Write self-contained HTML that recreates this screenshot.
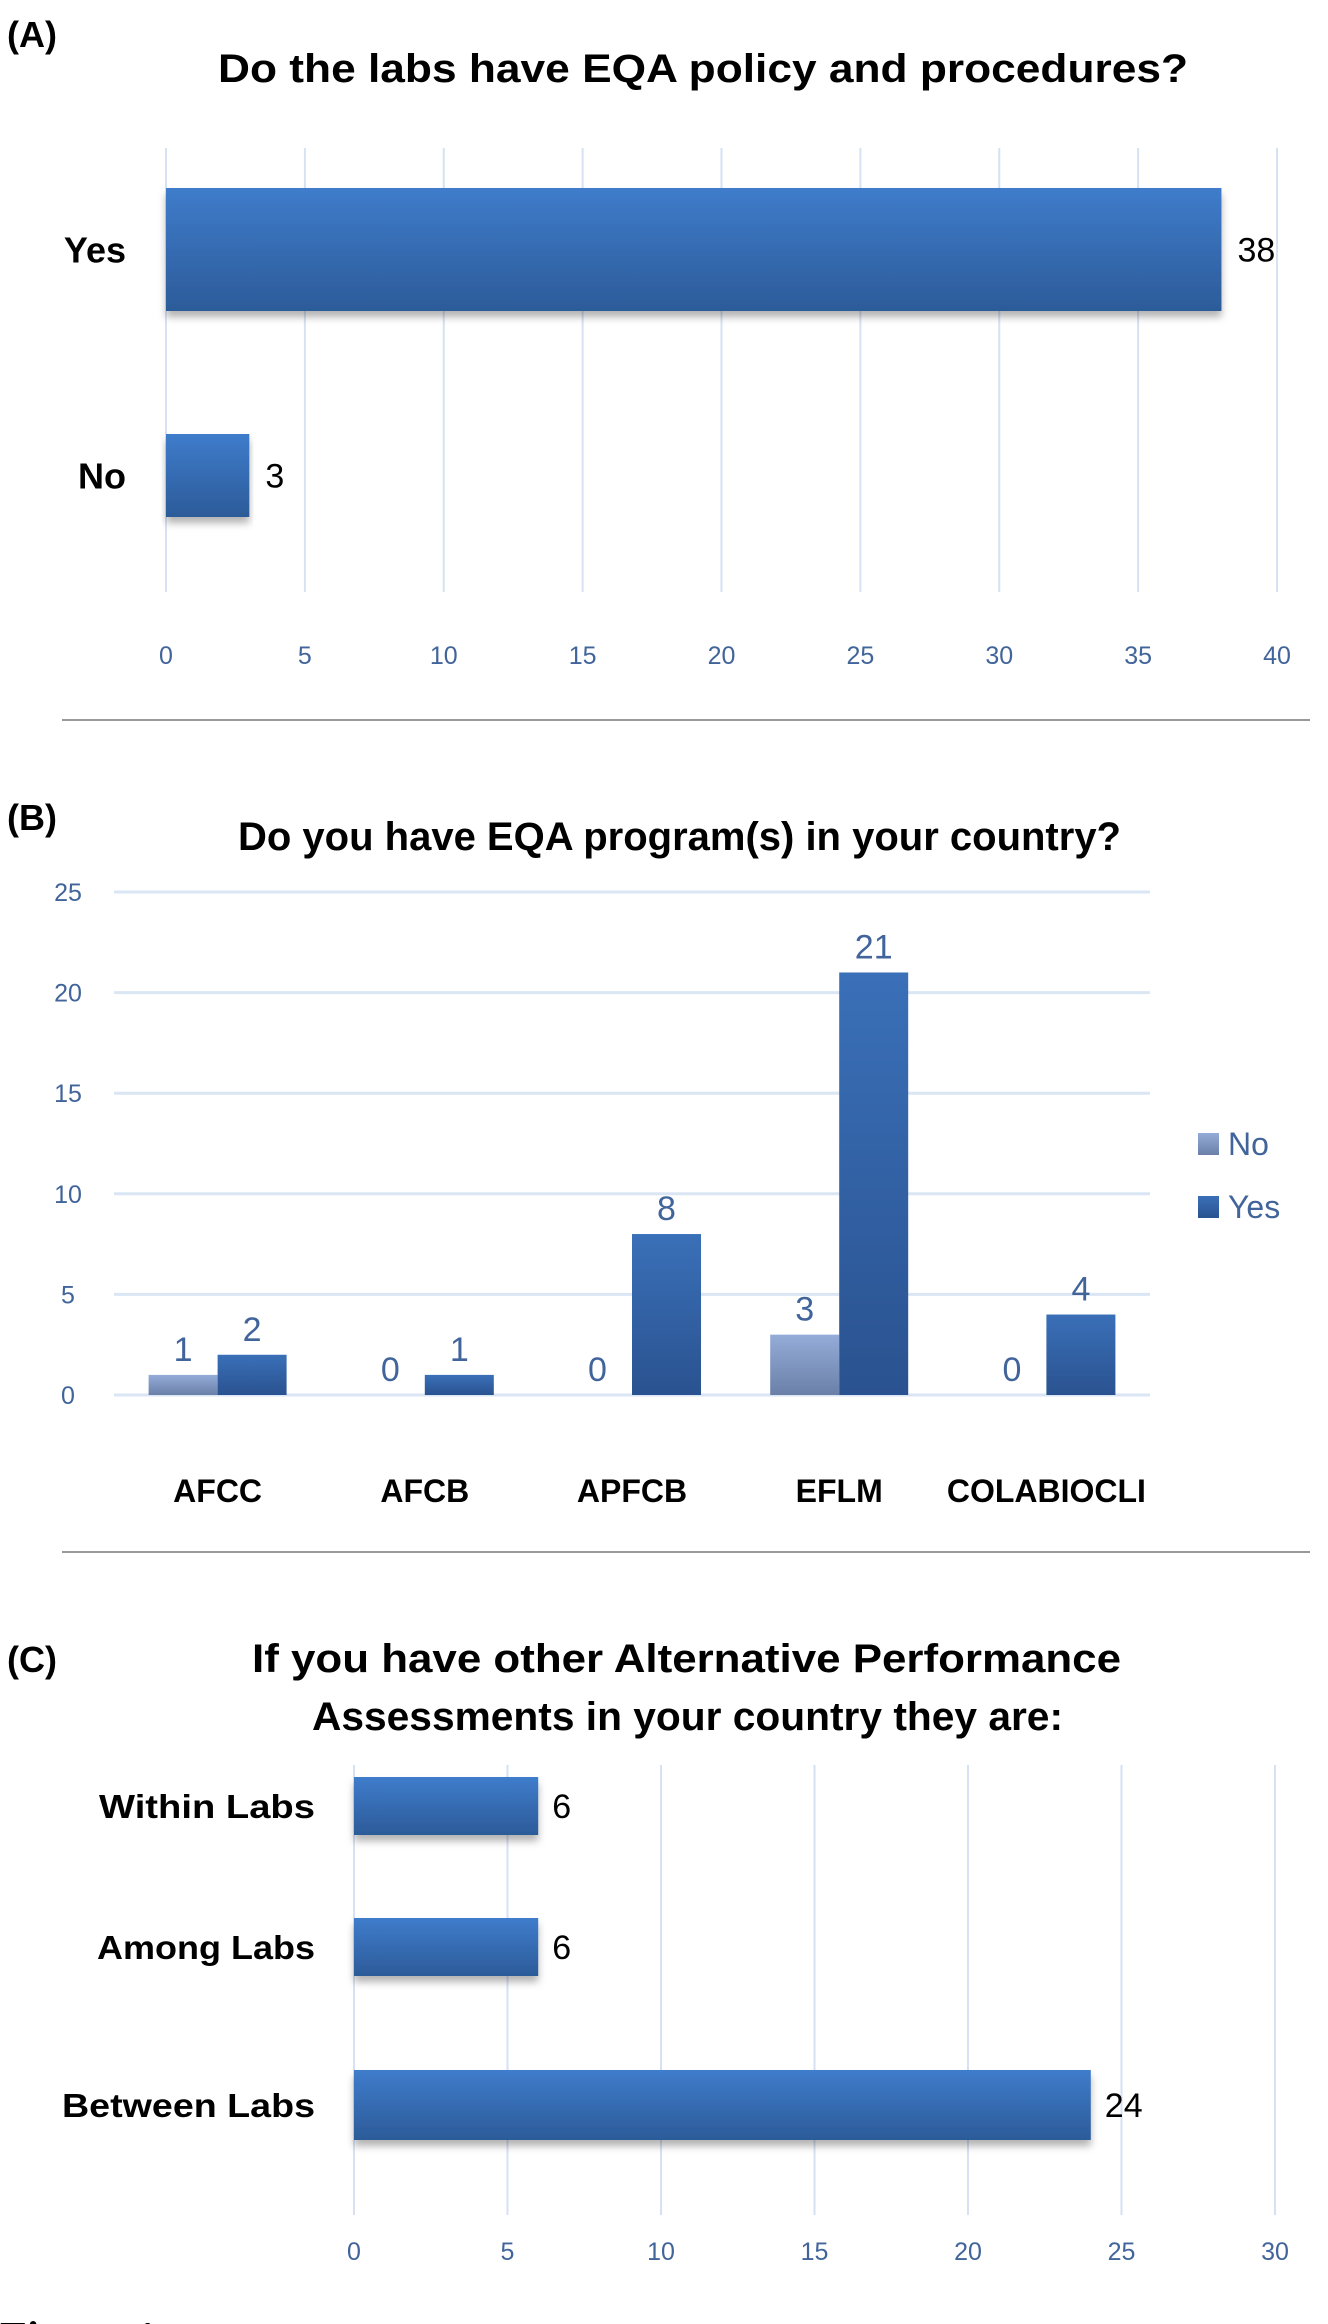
<!DOCTYPE html>
<html><head><meta charset="utf-8"><style>
html,body{margin:0;padding:0;background:#fff;}
svg{display:block;}
text{font-family:"Liberation Sans",sans-serif;}
</style></head><body>
<svg id="fig" width="1328" height="2324" viewBox="0 0 1328 2324" xmlns="http://www.w3.org/2000/svg">
<defs>
<linearGradient id="gBar" x1="0" y1="0" x2="0" y2="1"><stop offset="0" stop-color="#3f7ccb"/><stop offset="1" stop-color="#2c5b99"/></linearGradient>
<linearGradient id="gYes" x1="0" y1="0" x2="0" y2="1"><stop offset="0" stop-color="#3a70b8"/><stop offset="1" stop-color="#2a5290"/></linearGradient>
<linearGradient id="gNo" x1="0" y1="0" x2="0" y2="1"><stop offset="0" stop-color="#94acd8"/><stop offset="1" stop-color="#6a80a8"/></linearGradient>
<filter id="sh" x="-5%" y="-20%" width="110%" height="150%"><feDropShadow dx="0" dy="6" stdDeviation="4" flood-color="#000" flood-opacity="0.3"/></filter>
</defs>

<g id="panelA">
<text x="7" y="47" font-size="36" font-weight="bold">(A)</text>
<text x="218" y="82" font-size="40" font-weight="bold" textLength="970" lengthAdjust="spacingAndGlyphs">Do the labs have EQA policy and procedures?</text>
</g>
<line x1="62" y1="720" x2="1310" y2="720" stroke="#999" stroke-width="2"/>

<g id="panelB">
<text x="7" y="830" font-size="36" font-weight="bold">(B)</text>
<text x="238" y="850" font-size="40" font-weight="bold" textLength="883" lengthAdjust="spacingAndGlyphs">Do you have EQA program(s) in your country?</text>
</g>
<line x1="62" y1="1552" x2="1310" y2="1552" stroke="#999" stroke-width="2"/>

<g id="panelC">
<text x="7" y="1672" font-size="36" font-weight="bold">(C)</text>
<text x="252" y="1672" font-size="40" font-weight="bold" textLength="869" lengthAdjust="spacingAndGlyphs">If you have other Alternative Performance</text>
<text x="312" y="1730" font-size="40" font-weight="bold" textLength="751" lengthAdjust="spacingAndGlyphs">Assessments in your country they are:</text>
</g>
<text x="0" y="2352" font-size="44" font-weight="bold" style="font-family:'Liberation Serif',serif">Figure 1</text>
</svg>
<script>
// ---- Panel A data ----
const catsA = ["Yes", "No"];
const valsA = [38, 3];
const ticksA = [0, 5, 10, 15, 20, 25, 30, 35, 40];
// ---- Panel B data ----
const catsB = ["AFCC", "AFCB", "APFCB", "EFLM", "COLABIOCLI"];
const noB = [1, 0, 0, 3, 0];
const yesB = [2, 1, 8, 21, 4];
const ticksB = [0, 5, 10, 15, 20, 25];
const seriesB = ["No", "Yes"];
// ---- Panel C data ----
const catsC = ["Within Labs", "Among Labs", "Between Labs"];
const valsC = [6, 6, 24];
const ticksC = [0, 5, 10, 15, 20, 25, 30];

const NS = "http://www.w3.org/2000/svg";
const svg = document.getElementById('fig');
function mk(tag, attrs, parent, txt) {
  const e = document.createElementNS(NS, tag);
  for (const k in attrs) e.setAttribute(k, attrs[k]);
  if (txt !== undefined) e.textContent = txt;
  (parent || svg).appendChild(e);
  return e;
}
const tickCol = "#41649a";

// ---- Panel A ----
(function () {
  const g = document.getElementById('panelA');
  const x0 = 166, x1 = 1277, max = 40;
  const xs = v => x0 + (v / max) * (x1 - x0);
  const top = 148, bot = 592;
  ticksA.forEach(t => {
    const l = mk('line', {x1: xs(t), x2: xs(t), y1: top, y2: bot, stroke: "#d6e2f3", "stroke-width": 2}, g);
    
    
    const tx = mk('text', {x: xs(t), y: 664, "font-size": 25, fill: tickCol, "text-anchor": "middle"}, g, String(t));
    
    
  });
  const bands = [[188, 123], [434, 83]];
  catsA.forEach((c, i) => {
    const [y, h] = bands[i];
    const r = mk('rect', {x: xs(0), y: y, width: xs(valsA[i]) - xs(0), height: h, fill: "url(#gBar)", filter: "url(#sh)"}, g);
    
    
    const lb = mk('text', {x: 126, y: y + h / 2 + 13, "font-size": 36, "font-weight": "bold", "text-anchor": "end"}, g, c);
    
    
    const vl = mk('text', {x: xs(valsA[i]) + 16, y: y + h / 2 + 12, "font-size": 34}, g, String(valsA[i]));
    
    
  });
})();

// ---- Panel B ----
(function () {
  const g = document.getElementById('panelB');
  const y0 = 1395, y25 = 892, max = 25;
  const ys = v => y0 - (v / max) * (y0 - y25);
  const px0 = 114, px1 = 1150;
  const bw = (px1 - px0) / catsB.length;
  ticksB.forEach(t => {
    const l = mk('line', {x1: px0, x2: px1, y1: ys(t), y2: ys(t), stroke: "#dbe6f4", "stroke-width": 3}, g);
    
    
    const tx = mk('text', {x: 68, y: ys(t) + 9, "font-size": 25, fill: tickCol, "text-anchor": "middle"}, g, String(t));
    
    
  });
  const barW = 69;
  catsB.forEach((c, i) => {
    const cx = px0 + bw * (i + 0.5);
    [[noB[i], cx - barW, "url(#gNo)", "no"], [yesB[i], cx, "url(#gYes)", "yes"]].forEach(([v, x, f, s]) => {
      const r = mk('rect', {x: x, y: ys(v), width: barW, height: ys(0) - ys(v), fill: f}, g);
      
      
      const vl = mk('text', {x: x + barW / 2, y: ys(v) - 14, "font-size": 34, fill: tickCol, "text-anchor": "middle"}, g, String(v));
      
      
    });
    const lb = mk('text', {x: cx, y: 1502, "font-size": 32, "font-weight": "bold", "text-anchor": "middle"}, g, c);
    
    
  });
  const legY = [1144, 1207];
  const legF = ["url(#gNo)", "url(#gYes)"];
  seriesB.forEach((s, i) => {
    const sq = mk('rect', {x: 1198, y: legY[i] - 11, width: 21, height: 22, fill: legF[i]}, g);
    
    
    const t = mk('text', {x: 1228, y: legY[i] + 11, "font-size": 32, fill: tickCol}, g, s);
    
    
  });
})();

// ---- Panel C ----
(function () {
  const g = document.getElementById('panelC');
  const x0 = 354, x1 = 1275, max = 30;
  const xs = v => x0 + (v / max) * (x1 - x0);
  const top = 1765, bot = 2215;
  ticksC.forEach(t => {
    const l = mk('line', {x1: xs(t), x2: xs(t), y1: top, y2: bot, stroke: "#d6e2f3", "stroke-width": 2}, g);
    
    
    const tx = mk('text', {x: xs(t), y: 2260, "font-size": 25, fill: tickCol, "text-anchor": "middle"}, g, String(t));
    
    
  });
  const bands = [[1777, 58], [1918, 58], [2070, 70]];
  catsC.forEach((c, i) => {
    const [y, h] = bands[i];
    const r = mk('rect', {x: xs(0), y: y, width: xs(valsC[i]) - xs(0), height: h, fill: "url(#gBar)", filter: "url(#sh)"}, g);
    
    
    const lb = mk('text', {x: 315, y: y + h / 2 + 12, "font-size": 33, "font-weight": "bold", "text-anchor": "end", textLength: c === "Between Labs" ? 253 : (c === "Within Labs" ? 216 : 218), lengthAdjust: "spacingAndGlyphs"}, g, c);
    
    
    const vl = mk('text', {x: xs(valsC[i]) + 14, y: y + h / 2 + 12, "font-size": 34}, g, String(valsC[i]));
    
    
  });
})();
</script>
</body></html>
